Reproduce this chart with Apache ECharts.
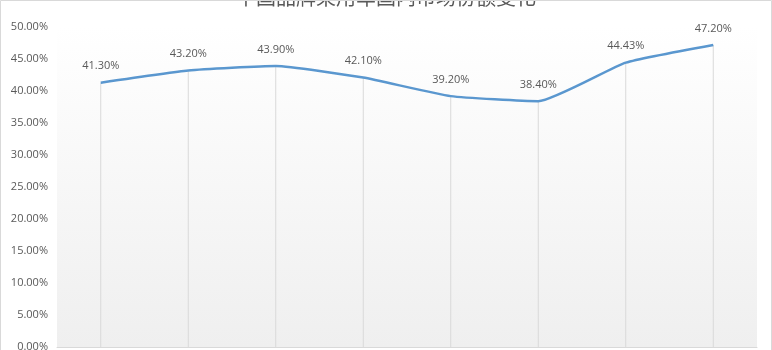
<!DOCTYPE html>
<html>
<head>
<meta charset="utf-8">
<script src="https://cdn.jsdelivr.net/npm/echarts@6/dist/echarts.min.js"></script>
<style>
  html, body { margin: 0; padding: 0; background: #ffffff; }
  #chart { width: 772px; height: 350px; }
</style>
</head>
<body>
<div id="chart"></div>
<script>
// Market share of Chinese-brand passenger cars, by year
const titleText = '中国品牌乘用车国内市场份额变化';
const years = ['2015年', '2016年', '2017年', '2018年', '2019年', '2020年', '2021年', '2022年'];
const shares = [41.30, 43.20, 43.90, 42.10, 39.20, 38.40, 44.43, 47.20];
const yTicks = { min: 0, max: 50, interval: 5 };

const chart = echarts.init(document.getElementById('chart'), null, { renderer: 'canvas' });

chart.setOption({
  animation: false,
  backgroundColor: '#ffffff',
  title: {
    text: titleText,
    left: 'center',
    top: -18,
    textStyle: {
      fontFamily: 'Noto Sans CJK SC',
      fontSize: 20,
      fontWeight: 'normal',
      color: '#595959'
    }
  },
  grid: {
    left: 57,
    right: 15,
    top: 27,
    bottom: 3,
    containLabel: false,
    outerBoundsMode: 'none',
    show: true,
    borderWidth: 0,
    backgroundColor: new echarts.graphic.LinearGradient(0, 0, 0, 1, [
      { offset: 0, color: '#ffffff' },
      { offset: 1, color: '#efefef' }
    ])
  },
  xAxis: {
    type: 'category',
    data: years,
    boundaryGap: true,
    axisLine: { show: true, lineStyle: { color: '#d9d9d9', width: 1 } },
    axisTick: { show: false },
    axisLabel: { color: '#595959', fontSize: 11, margin: 10 },
    splitLine: { show: false }
  },
  yAxis: {
    type: 'value',
    min: yTicks.min,
    max: yTicks.max,
    interval: yTicks.interval,
    axisLine: { show: false },
    axisTick: { show: false },
    splitLine: { show: false },
    axisLabel: {
      color: '#595959',
      fontFamily: 'Open Sans',
      fontSize: 11,
      margin: 9,
      formatter: v => v.toFixed(2) + '%'
    }
  },
  series: [
    {
      // drop lines from each point to the axis
      type: 'bar',
      data: shares,
      barWidth: 1,
      silent: true,
      z: 1,
      itemStyle: { color: '#d9d9d9' }
    },
    {
      type: 'line',
      data: shares,
      smooth: 0.15,
      symbol: 'circle',
      symbolSize: 0,
      showSymbol: true,
      z: 3,
      itemStyle: { color: '#5a97cf' },
      lineStyle: { color: '#5a97cf', width: 2.5 },
      label: {
        show: true,
        position: 'top',
        distance: 11,
        color: '#595959',
        fontFamily: 'Open Sans',
        fontSize: 11,
        formatter: p => p.value.toFixed(2) + '%'
      }
    }
  ],
  graphic: [
    {
      type: 'rect',
      shape: { x: 0.5, y: 0.5, width: 771, height: 360 },
      style: { fill: 'none', stroke: '#d9d9d9', lineWidth: 1 },
      silent: true,
      z: 100
    }
  ]
});
</script>
</body>
</html>
